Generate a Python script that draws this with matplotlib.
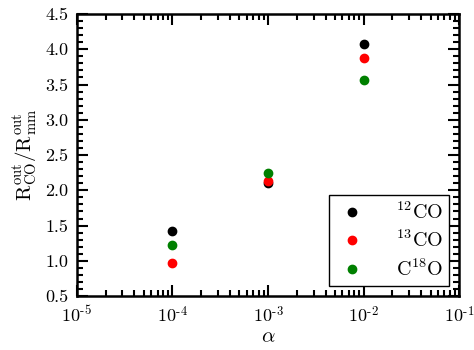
import matplotlib
matplotlib.use("Agg")
import matplotlib.pyplot as plt
from matplotlib.ticker import AutoMinorLocator, FixedLocator, FixedFormatter

plt.rcParams['mathtext.fontset'] = 'cm'
plt.rcParams['font.family'] = 'serif'
plt.rcParams['font.serif'] = ['cmr10', 'DejaVu Serif']
plt.rcParams['axes.formatter.use_mathtext'] = True
plt.rcParams['axes.unicode_minus'] = False

alpha = [1e-4, 1e-3, 1e-2]
co12 = [1.43, 2.10, 4.07]
co13 = [0.97, 2.13, 3.88]
c18o = [1.23, 2.25, 3.57]
labels = [r'$^{12}\mathrm{CO}$', r'$^{13}\mathrm{CO}$', r'$\mathrm{C}^{18}\mathrm{O}$']
colors = ['black', 'red', 'green']
xticks = [1e-5, 1e-4, 1e-3, 1e-2, 1e-1]
xticklabels = [r'$10^{\text{-}5}$', r'$10^{\text{-}4}$', r'$10^{\text{-}3}$',
               r'$10^{\text{-}2}$', r'$10^{\text{-}1}$']
yticks = [0.5, 1.0, 1.5, 2.0, 2.5, 3.0, 3.5, 4.0, 4.5]
yticklabels = ['0.5', '1.0', '1.5', '2.0', '2.5', '3.0', '3.5', '4.0', '4.5']

fig = plt.figure(figsize=(4.74, 3.5), dpi=100)
ax = fig.add_axes([0.162, 0.154, 0.807, 0.806])

for ys, lab, c in zip([co12, co13, c18o], labels, colors):
    ax.plot(alpha, ys, 'o', color=c, markersize=6, label=lab, linestyle='none')

ax.set_xscale('log')
ax.set_xlim(1e-5, 1e-1)
ax.set_ylim(0.5, 4.5)
ax.xaxis.set_major_locator(FixedLocator(xticks))
ax.xaxis.set_major_formatter(FixedFormatter(xticklabels))
ax.set_yticks(yticks)
ax.set_yticklabels(yticklabels)
ax.yaxis.set_minor_locator(AutoMinorLocator(5))

ax.tick_params(which='both', direction='in', top=True, right=True, labelsize=13, width=1.5)
ax.tick_params(which='major', length=8, pad=6)
ax.tick_params(which='minor', length=4)
for s in ax.spines.values():
    s.set_linewidth(1.8)

ax.set_xlabel(r'$\alpha$', fontsize=15, labelpad=2)
ax.set_ylabel(r'$\mathrm{R^{out}_{CO}/R^{out}_{mm}}$', fontsize=15, labelpad=4)

leg = ax.legend(loc='lower right', fontsize=14.5, frameon=True, fancybox=False,
                edgecolor='black', framealpha=1, borderaxespad=0.5,
                handletextpad=1.4, handlelength=1.6, labelspacing=0.35,
                numpoints=1, borderpad=0.3)
leg.get_frame().set_linewidth(1.0)

fig.savefig('out.png', dpi=100)
